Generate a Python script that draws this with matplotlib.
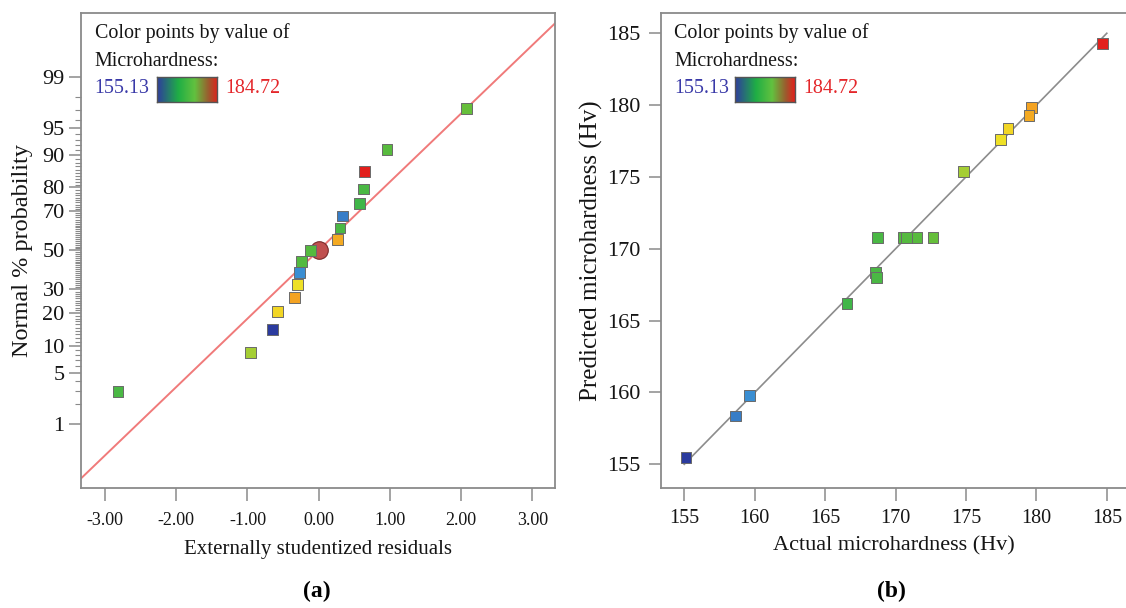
import matplotlib
matplotlib.use("Agg")
import matplotlib.pyplot as plt
import numpy as np
from matplotlib.colors import LinearSegmentedColormap, Normalize
from statistics import NormalDist

plt.rcParams['font.family'] = ['Liberation Serif', 'DejaVu Serif']

# ---------------- data ----------------
# Panel (a): normal probability plot of externally studentized residuals
resid = [-2.82, -0.96, -0.65, -0.58, -0.335, -0.30, -0.27, -0.24, -0.115,
         0.26, 0.30, 0.335, 0.575, 0.625, 0.645, 0.96, 2.08]
prob_pct = [2.9, 8.6, 14.5, 20.5, 26.4, 32.4, 38.1, 44.1, 50.0,
            55.8, 61.7, 67.7, 73.5, 79.4, 85.4, 91.2, 97.1]
resid_hardness = [168.74, 174.85, 155.12, 177.99, 179.64, 177.46, 159.63, 170.58, 170.77,
                  179.47, 168.57, 158.63, 166.56, 168.64, 184.68, 171.53, 172.66]
highlight_resid = [0.0]
highlight_prob = [50.0]
ref_slope = 0.916   # red reference line slope (z per residual unit)

# Panel (b): predicted vs actual
actual = [184.68, 179.64, 179.47, 177.99, 177.46, 174.85, 168.74, 170.58, 170.77,
          171.53, 172.66, 168.57, 168.64, 166.56, 159.63, 158.63, 155.12]
predicted = [184.30, 179.81, 179.30, 178.36, 177.59, 175.37, 170.79, 170.79, 170.79,
             170.79, 170.79, 168.37, 168.02, 166.20, 159.77, 158.37, 155.49]
diag_line = [155.0, 185.0]

hmin, hmax = 155.13, 184.72
prob_major = [1, 5, 10, 20, 30, 50, 70, 80, 90, 95, 99]
x_ticks_a = [-3, -2, -1, 0, 1, 2, 3]
ticks_b = [155, 160, 165, 170, 175, 180, 185]

# ---------------- styles ----------------
W, H = 1126, 608
fig = plt.figure(figsize=(W / 100, H / 100), dpi=100)

point_cmap = LinearSegmentedColormap.from_list('pts', [
    (0.0, '#2b3b9e'), (0.15, '#3a8fd2'), (0.36, '#3cb54a'), (0.58, '#5cbc3c'),
    (0.67, '#a8cf34'), (0.76, '#f1e126'), (0.83, '#f4a422'), (1.0, '#e2201c')])
legend_cmap = LinearSegmentedColormap.from_list('leg', [
    (0.0, '#2f3c9e'), (0.35, '#1fae45'), (0.62, '#62c13f'), (0.85, '#9c5a2e'), (1.0, '#e2201c')])
norm = Normalize(hmin, hmax)
spine_col = '#8a8a8a'
text_col = '#151515'
inv = NormalDist().inv_cdf


def px_axes(l, t, r, b):
    return fig.add_axes([l / W, 1 - b / H, (r - l) / W, (b - t) / H])


def style(ax):
    for s in ax.spines.values():
        s.set_color(spine_col)
        s.set_linewidth(1.3)
    ax.tick_params(colors=spine_col, labelcolor=text_col, width=1.1)


def legend(ax):
    ax.text(0.028, 0.958, 'Color points by value of', transform=ax.transAxes,
            fontsize=14.4, color=text_col, va='center', ha='left')
    ax.text(0.028, 0.899, 'Microhardness:', transform=ax.transAxes,
            fontsize=14.4, color=text_col, va='center', ha='left')
    ax.text(0.028, 0.842, f'{hmin:.2f}', transform=ax.transAxes,
            fontsize=14.4, color='#3a3aa8', va='center', ha='left')
    ax.text(0.305, 0.842, f'{hmax:.2f}', transform=ax.transAxes,
            fontsize=14.4, color='#e4262a', va='center', ha='left')
    cax = ax.inset_axes([0.159, 0.814, 0.128, 0.052])
    cax.imshow(np.linspace(0, 1, 256)[None, :], aspect='auto', cmap=legend_cmap)
    cax.set_xticks([])
    cax.set_yticks([])
    for s in cax.spines.values():
        s.set_color('#555555')
        s.set_linewidth(1.0)


# ---------------- panel (a) ----------------
axa = px_axes(81.3, 13.3, 555, 488.3)
style(axa)
z = [inv(p / 100) for p in prob_pct]
axa.scatter(resid, z, c=[point_cmap(norm(v)) for v in resid_hardness], marker='s',
            s=60, edgecolors='#6a6a6a', linewidths=0.7, zorder=3)
axa.scatter(highlight_resid, [inv(p / 100) for p in highlight_prob], s=160,
            color='#c0504f', edgecolors='#7a2a2a', linewidths=0.8, zorder=2)
xl = np.array([-3.33, 3.33])
axa.plot(xl, ref_slope * xl, color='#f07a7a', lw=1.4, zorder=1)
axa.set_xlim(-3.334, 3.32)
axa.set_ylim(-3.19, 3.176)
axa.set_xticks(x_ticks_a)
axa.set_xticklabels([f'{v:.2f}' for v in x_ticks_a], fontsize=13)
axa.set_yticks([inv(p / 100) for p in prob_major])
axa.set_yticklabels([str(p) for p in prob_major], fontsize=16)
axa.set_yticks([inv(p / 100) for p in range(1, 100) if p not in prob_major], minor=True)
axa.tick_params(axis='y', which='major', length=9, pad=3)
axa.tick_params(axis='y', which='minor', length=4, width=0.8, colors=spine_col)
axa.tick_params(axis='x', which='major', length=9, pad=8)
axa.set_xlabel('Externally studentized residuals', fontsize=15, labelpad=8, color=text_col)
axa.set_ylabel('Normal % probability', fontsize=17.5, labelpad=7, color=text_col)
legend(axa)

# ---------------- panel (b) ----------------
axb = px_axes(661.3, 13.3, 1126.8, 488.3)
style(axb)
axb.plot(diag_line, diag_line, color='#8c8c8c', lw=1.2, zorder=1)
axb.scatter(actual, predicted, c=[point_cmap(norm(v)) for v in actual], marker='s',
            s=60, edgecolors='#6a6a6a', linewidths=0.7, zorder=3)
axb.set_xlim(153.37, 186.42)
axb.set_ylim(153.33, 186.39)
axb.set_xticks(ticks_b)
axb.set_yticks(ticks_b)
axb.set_xticklabels([str(v) for v in ticks_b], fontsize=14.5)
axb.set_yticklabels([str(v) for v in ticks_b], fontsize=16)
axb.tick_params(axis='both', length=9, pad=6)
axb.set_xlabel('Actual microhardness (Hv)', fontsize=16, labelpad=6, color=text_col)
axb.set_ylabel('Predicted microhardness (Hv)', fontsize=18, labelpad=3, color=text_col)
legend(axb)

# ---------------- panel labels ----------------
fig.text(317 / W, 1 - 591 / H, '(a)', fontsize=17, fontweight='bold', ha='center', va='center')
fig.text(891 / W, 1 - 591 / H, '(b)', fontsize=17, fontweight='bold', ha='center', va='center')

fig.savefig('out.png', dpi=100)
